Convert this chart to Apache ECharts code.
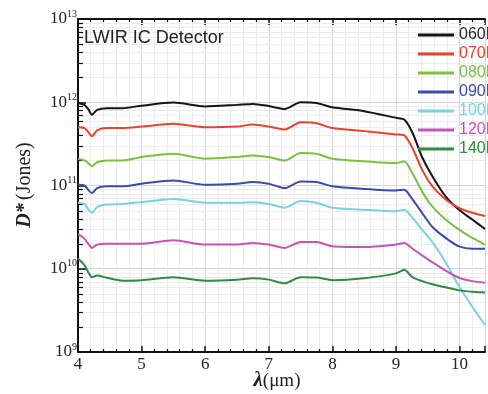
<!DOCTYPE html>
<html>
<head>
<meta charset="utf-8">
<script src="https://cdn.jsdelivr.net/npm/echarts@6/dist/echarts.min.js"></script>
<style>
html,body{margin:0;padding:0;background:#fff;}
#c{width:488px;height:394px;}
</style>
</head>
<body>
<div id="c"></div>
<script>
// wavelength (µm)
const lambda = [4.0, 4.1, 4.16, 4.22, 4.3, 4.45, 4.7, 5.0, 5.5, 6.0, 6.5, 6.75, 7.0, 7.25, 7.5, 7.75, 8.0, 8.5, 9.0, 9.13, 9.26, 9.41, 9.57, 9.78, 9.99, 10.2, 10.4];
const names = ['060K', '070K', '080K', '090K', '100K', '120K', '140K'];
// D* (Jones)
const d060 = [9.8e11, 9.3e11, 8.3e11, 7.1e11, 8.1e11, 8.5e11, 8.5e11, 9.1e11, 9.9e11, 8.9e11, 9.3e11, 9.55e11, 9.0e11, 8.3e11, 1.0e12, 9.8e11, 8.7e11, 7.8e11, 6.5e11, 6.2e11, 4.3e11, 2.2e11, 1.3e11, 7.4e10, 5.1e10, 3.9e10, 3.0e10];
const d070 = [5.0e11, 4.9e11, 4.4e11, 3.9e11, 4.6e11, 4.9e11, 4.9e11, 5.1e11, 5.5e11, 5.0e11, 5.1e11, 5.4e11, 5.1e11, 4.7e11, 5.75e11, 5.6e11, 4.9e11, 4.5e11, 4.1e11, 4.0e11, 2.8e11, 1.55e11, 9.8e10, 6.8e10, 5.4e10, 4.7e10, 4.3e10];
const d080 = [2.1e11, 2.0e11, 1.86e11, 1.7e11, 1.9e11, 2.0e11, 2.0e11, 2.2e11, 2.4e11, 2.1e11, 2.2e11, 2.3e11, 2.2e11, 2.0e11, 2.45e11, 2.4e11, 2.1e11, 1.95e11, 1.86e11, 1.95e11, 1.4e11, 8.5e10, 5.6e10, 3.9e10, 2.95e10, 2.35e10, 1.95e10];
const d090 = [1.02e11, 1.0e11, 8.9e10, 8.1e10, 9.3e10, 9.8e10, 9.8e10, 1.05e11, 1.15e11, 1.02e11, 1.05e11, 1.1e11, 1.05e11, 9.3e10, 1.12e11, 1.1e11, 9.8e10, 9.1e10, 8.7e10, 8.9e10, 6.8e10, 4.7e10, 3.2e10, 2.35e10, 1.86e10, 1.74e10, 1.74e10];
const d100 = [6.2e10, 6.0e10, 5.2e10, 4.7e10, 5.5e10, 5.9e10, 6.0e10, 6.3e10, 6.9e10, 6.2e10, 6.2e10, 6.3e10, 6.0e10, 5.4e10, 6.5e10, 6.2e10, 5.4e10, 5.1e10, 4.9e10, 5.1e10, 4.1e10, 2.95e10, 2.1e10, 1.2e10, 6.2e9, 3.5e9, 2.1e9];
const d120 = [2.6e10, 2.3e10, 2.0e10, 1.78e10, 1.95e10, 2.0e10, 2.0e10, 2.0e10, 2.2e10, 1.95e10, 1.95e10, 2.04e10, 1.95e10, 1.78e10, 2.1e10, 2.1e10, 1.86e10, 1.82e10, 1.95e10, 2.04e10, 1.74e10, 1.45e10, 1.2e10, 9.5e9, 7.8e9, 7.1e9, 6.8e9];
const d140 = [1.33e10, 1.11e10, 9.1e9, 7.9e9, 8.3e9, 7.8e9, 7.2e9, 7.3e9, 7.9e9, 7.2e9, 7.4e9, 7.7e9, 7.4e9, 6.7e9, 7.9e9, 7.85e9, 7.3e9, 7.7e9, 8.8e9, 9.7e9, 7.9e9, 7.1e9, 6.5e9, 6.0e9, 5.5e9, 5.3e9, 5.2e9];
const seriesData = [d060, d070, d080, d090, d100, d120, d140];
const colors = ['#151515', '#e8412c', '#7cc043', '#3c4ca6', '#79d2e2', '#c454b6', '#2f8a45'];
const textColors = ['#2a2a2a', '#e8412c', '#7cc043', '#3c4ca6', '#79d2e2', '#c454b6', '#2f8a45'];
// minor log ticks on the y axis
const yMinor = [];
[1e9, 1e10, 1e11, 1e12].forEach(b => { [2,3,4,5,6,7,8,9].forEach(m => yMinor.push(m * b)); });

const SERIF = "'Liberation Serif','Times New Roman',serif";
const SANS = "'Liberation Sans',Arial,sans-serif";

const chart = echarts.init(document.getElementById('c'), null, {renderer: 'canvas'});

const lineSeries = names.map((n, i) => ({
  name: n,
  type: 'line',
  data: lambda.map((x, j) => [x, seriesData[i][j]]),
  showSymbol: false,
  smooth: 0.25,
  lineStyle: {color: colors[i], width: 2},
  itemStyle: {color: colors[i]},
  z: 3
}));

const minorSeries = {
  type: 'custom',
  silent: true,
  z: 1,
  clip: false,
  data: yMinor.map(v => [4, v]),
  renderItem: function (params, api) {
    const cs = params.coordSys;
    const p = api.coord([api.value(0), api.value(1)]);
    const y = Math.round(p[1]) + 0.5;
    return {
      type: 'group',
      children: [
        {type: 'line', shape: {x1: cs.x, y1: y, x2: cs.x + cs.width, y2: y}, style: {stroke: '#ececec', lineWidth: 1}, z2: 0},
        {type: 'line', shape: {x1: cs.x, y1: y, x2: cs.x + 5, y2: y}, style: {stroke: '#111', lineWidth: 1.2}, z2: 10}
      ]
    };
  }
};

const option = {
  animation: false,
  backgroundColor: '#fff',
  grid: {left: 78, right: 0, top: 19, bottom: 42, containLabel: false},
  xAxis: [
    {
      type: 'value', min: 4, max: 10.4, interval: 1, position: 'bottom',
      axisLine: {show: true, onZero: false, lineStyle: {color: '#111', width: 2}},
      axisTick: {show: true, inside: true, length: 6, lineStyle: {color: '#111', width: 1.5}},
      minorTick: {show: true, splitNumber: 5, length: 3, lineStyle: {color: '#111', width: 1.2}},
      axisLabel: {margin: 4, fontFamily: SERIF, fontSize: 17, color: '#222',
        formatter: v => (Math.abs(v - Math.round(v)) < 1e-6 ? String(Math.round(v)) : '')},
      splitLine: {show: true, lineStyle: {color: '#d6d6d6', width: 1}},
      minorSplitLine: {show: true, lineStyle: {color: '#ececec', width: 1}}
    },
    {
      type: 'value', min: 4, max: 10.4, interval: 1, position: 'top',
      axisLine: {show: true, onZero: false, lineStyle: {color: '#111', width: 2}},
      axisTick: {show: true, inside: true, length: 6, lineStyle: {color: '#111', width: 1.5}},
      minorTick: {show: true, splitNumber: 5, length: 3, lineStyle: {color: '#111', width: 1.2}},
      axisLabel: {show: false},
      splitLine: {show: false}
    }
  ],
  yAxis: {
    type: 'log', logBase: 10, min: 1e9, max: 1e13,
    axisLine: {show: true, onZero: false, lineStyle: {color: '#111', width: 2}},
    axisTick: {show: true, inside: true, length: 8, lineStyle: {color: '#111', width: 1.5}},
    axisLabel: {
      margin: 1, color: '#222',
      formatter: v => '{b|10}{s|' + Math.round(Math.log10(v)) + '}',
      rich: {
        b: {fontFamily: SERIF, fontSize: 17, color: '#222'},
        s: {fontFamily: SERIF, fontSize: 10, color: '#222', padding: [0, 0, 10, 0]}
      }
    },
    splitLine: {show: true, lineStyle: {color: '#d6d6d6', width: 1}}
  },
  legend: {
    orient: 'vertical', left: 413, top: 22,
    itemWidth: 36, itemHeight: 3, itemGap: 3, icon: 'rect',
    textStyle: {fontSize: 16, fontFamily: SANS, lineHeight: 16},
    data: names.map((n, i) => ({name: n, textStyle: {color: textColors[i]}}))
  },
  graphic: [
    {type: 'text', x: 84, y: 38, z: 10,
      style: {text: 'LWIR IC Detector', font: '18px ' + SANS, fill: '#222', align: 'left', verticalAlign: 'middle'}},
    {type: 'text', x: 25, y: 185, rotation: Math.PI / 2, z: 10,
      style: {text: '{d|D*} {j|(Jones)}', align: 'center', verticalAlign: 'middle',
        rich: {d: {fontFamily: SERIF, fontSize: 20, fontWeight: 'bold', fontStyle: 'italic', fill: '#222'},
               j: {fontFamily: SERIF, fontSize: 20, fill: '#222'}}}},
    {type: 'text', x: 277, y: 381, z: 10,
      style: {text: '{l|λ}{u|(μm)}', align: 'center', verticalAlign: 'middle',
        rich: {l: {fontFamily: SERIF, fontSize: 21, fontWeight: 'bold', fontStyle: 'italic', fill: '#222'},
               u: {fontFamily: SERIF, fontSize: 19, fill: '#222'}}}}
  ],
  series: [minorSeries].concat(lineSeries)
};
chart.setOption(option);
</script>
</body>
</html>
